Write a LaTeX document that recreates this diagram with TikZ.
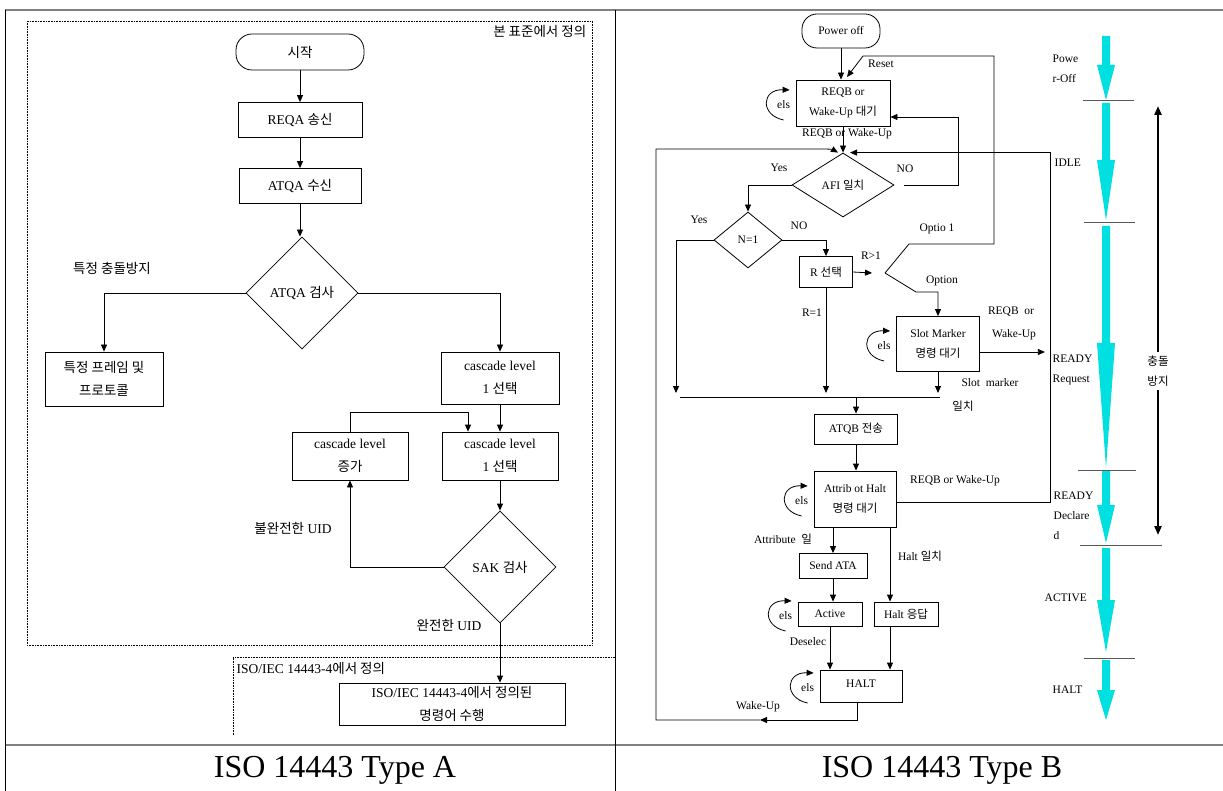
\documentclass[tikz,border=0pt]{standalone}
\usepackage{fontspec}
\setmainfont{Liberation Serif}
\newfontfamily\ko{Noto Sans CJK KR}
\usetikzlibrary{shapes.geometric,arrows.meta,calc}

\definecolor{flowcyan}{RGB}{0,224,224}

\tikzset{
  arr/.style={-{Triangle[length=7pt,width=6pt]}},
  box/.style={draw, inner sep=1pt, align=center},
  cond/.style={draw, diamond, inner sep=0pt, aspect=1.6},
  term/.style={draw, rounded corners=16pt, align=center},
  tick/.style={gray!70!black, line width=1pt},
}

% self loop with "els" left of a box
\newcommand{\elsloop}[2]{%
  \draw[arr] ($(#1.west)+(-12,17)$) .. controls ($(#1.west)+(-36,12)$) and ($(#1.west)+(-34,-14)$) .. ($(#1.west)+(-6,-13)$);
  \node (#2) at ($(#1.west)+(-12,2)$) {els};
}
% one state band of the cyan column
\newcommand{\flowseg}[3]{%
  \fill[flowcyan] (1102,#1) -- (1110,#1) -- (1110,#2) -- (1115,#2) -- (1106,#3) -- (1097,#2) -- (1102,#2) -- cycle;
}

\begin{document}
\begin{tikzpicture}[x=1pt, y=-1pt, line width=0.8pt, font=\fontsize{13.5}{23}\selectfont]
    \useasboundingbox (0,0) rectangle (1223,791);

    % Table frame
    \draw[gray, line width=2pt] (5,10) -- (1223,10);
    \draw[gray, line width=2pt] (5,745) -- (1223,745);
    \draw (5,10) -- (5,791);
    \draw (615,10) -- (615,791);
    \node[font=\fontsize{32}{32}\selectfont] (capa) at (335,770) {ISO 14443 Type A};
    \node[font=\fontsize{32}{32}\selectfont] (capb) at (942,770) {ISO 14443 Type B};

    % Type A
    \draw[densely dotted, line width=0.6pt] (27,21) rectangle (592,645);
    \draw[densely dotted, line width=0.6pt] (233,735) -- (233,657) -- (615,657);
    \node[anchor=east] (ownstd) at (590,31) {\ko 본 표준에서 정의};
    \node[anchor=west] (isodef) at (233,668) {ISO/IEC 14443-4{\ko 에서 정의}};

    \node[term, minimum width=128pt, minimum height=36pt] (start) at (300,52) {\ko 시작};
    \node[box, minimum width=124pt, minimum height=35pt] (reqa) at (300,120) {REQA {\ko 송신}};
    \node[box, minimum width=122pt, minimum height=35pt] (atqa) at (300,186) {ATQA {\ko 수신}};
    \node[cond, aspect=1, minimum width=112pt, minimum height=112pt] (chk) at (302,293) {ATQA {\ko 검사}};
    \node[box, minimum width=118pt, minimum height=54pt] (frame) at (104,379) {\ko 특정 프레임 및\\\ko 프로토콜};
    \node[box, minimum width=118pt, minimum height=52pt] (casc1) at (500,378) {cascade level\\1 {\ko 선택}};
    \node[box, minimum width=116pt, minimum height=48pt] (casc2) at (500,456) {cascade level\\1 {\ko 선택}};
    \node[box, minimum width=116pt, minimum height=48pt] (incr) at (350,456) {cascade level\\\ko 증가};
    \node[cond, aspect=1, minimum width=112pt, minimum height=112pt] (sak) at (500,567) {SAK {\ko 검사}};
    \node[box, minimum width=226pt, minimum height=42pt] (exec) at (452,704) {ISO/IEC 14443-4{\ko 에서 정의된}\\\ko 명령어 수행};

    \node (lspec) at (112,268) {\ko 특정 충돌방지};
    \node (lpart) at (293,528) {{\ko 불완전한} UID};
    \node (lfull) at (449,625) {{\ko 완전한} UID};

    \draw[arr] (start.south) -- (start.south |- reqa.north);
    \draw[arr] (reqa.south) -- (reqa.south |- atqa.north);
    \draw[arr] (atqa.south) -- (atqa.south |- chk.north);
    \draw[arr] (chk.west) -| (frame.north);
    \draw[arr] (chk.east) -| (casc1.north);
    \draw[arr] (casc1.south) -- (casc2.north);
    \draw[arr] (incr.north) -- ++(0,-19) -| ($(casc2.north)+(-32,0)$);
    \draw[arr] (casc2.south) -- (sak.north);
    \draw[arr] (sak.west) -| (incr.south);
    \draw[arr] (sak.south) -- (sak.south |- exec.north);

    % Type B
    \begin{scope}[font=\fontsize{11.5}{20}\selectfont]
    \node[term, rounded corners=15pt, minimum width=78pt, minimum height=34pt] (poff) at (841,31) {Power off};
    \node[box, minimum width=94pt, minimum height=46pt] (reqb) at (843,103) {REQB or\\Wake-Up {\ko 대기}};
    \node[cond, minimum width=102pt, minimum height=64pt] (afi) at (843,185) {AFI {\ko 일치}};
    \node[cond, minimum width=68pt, minimum height=56pt] (none) at (748,240) {N=1};
    \node[box, minimum width=53pt, minimum height=31pt] (rsel) at (826,272) {R {\ko 선택}};
    \node[box, minimum width=83pt, minimum height=55pt] (slot) at (938,344) {Slot Marker\\\ko 명령 대기};
    \node[box, minimum width=83pt, minimum height=30pt] (atqb) at (856,429) {ATQB {\ko 전송}};
    \node[box, minimum width=82pt, minimum height=56pt] (attr) at (855,499) {Attrib ot Halt\\\ko 명령 대기};
    \node[box, minimum width=68pt, minimum height=25pt] (ata) at (833,566) {Send ATA};
    \node[box, minimum width=64pt, minimum height=24pt] (act) at (830,614) {Active};
    \node[box, minimum width=64pt, minimum height=24pt] (hresp) at (906,614) {Halt {\ko 응답}};
    \node[box, minimum width=82pt, minimum height=32pt] (halt) at (861,686) {\raisebox{5pt}{HALT}};

    \elsloop{reqb}{els1}
    \elsloop{slot}{els2}
    \elsloop{attr}{els3}
    \elsloop{act}{els4}
    \elsloop{halt}{els5}

    \coordinate (vtx) at (885,273);
    \coordinate (opttop) at (909,244);
    \coordinate (optbot) at (916,292);
    \coordinate (rsttop) at (994,56);
    \coordinate (rstmid) at (863,56);
    \coordinate (rsttip) at (847,77);
    \coordinate (mrgL) at (680,397);
    \coordinate (mrgR) at (940,397);
    \coordinate (hx) at ($(hresp.north)+(-16,0)$);
    \coordinate (wkarr) at (760,720);
    \coordinate (lpcorner) at (656,149);

    \draw[arr] (poff.south) -- (poff.south |- reqb.north);
    \draw[arr] (vtx) -- (opttop) -| (rsttop) -- (rstmid) -- (rsttip);
    \draw[arr] (vtx) -- (optbot) -| (slot.north);
    \draw[arr] (rsel.east) -- ($(vtx)+(-13,0)$);
    \draw[arr] (reqb.south) -- (afi.north);
    \draw[arr] ($(afi.east)+(10,0)$) -| ($(reqb.east)+(68,14)$) -- ($(reqb.east)+(0,14)$);
    \draw[arr] (afi.west) -| (none.north);
    \draw[arr] (none.west) -| ($(mrgL)+(-4,-4)$);
    \draw[arr] (none.east) -| (rsel.north);
    \draw[arr] (rsel.south) -- ($(rsel.south |- mrgL)+(0,-4)$);
    \draw[arr] (slot.south) -- ($(slot.south |- mrgR)+(0,-4)$);
    \draw (mrgL) -- (mrgR);
    \draw[arr] (atqb.north |- mrgL) -- (atqb.north);
    \draw[arr] (atqb.south) -- (atqb.south |- attr.north);
    \draw[arr] (ata.north |- attr.south) -- (ata.north);
    \draw[arr] (hx |- attr.south) -- (hx);
    \draw[arr] (ata.south) -- (ata.south |- act.north);
    \draw[arr] (act.south) -- (act.south |- halt.north);
    \draw[arr] (hx |- hresp.south) -- (hx |- halt.north);
    \draw[arr] ($(slot.east)+(0,8)$) -- ($(slot.east)+(65,8)$);
    \draw[arr] ($(attr.east)+(0,3)$) -| ($(afi.north)+(207,0)$) -- ($(afi.north)+(7,0)$);
    \draw[arr] ($(halt.south)+(-4,0)$) |- (wkarr);
    \draw[arr] (wkarr) -| (lpcorner) -- (822,149) to[out=0,in=150] ($(afi.north)+(-5,0)$);

    \node (lrst) at (881,64) {Reset};
    \node (lrw) at (847,134) {REQB or Wake-Up};
    \node (lyes1) at (779,168) {Yes};
    \node (lno1) at (905,169) {NO};
    \node (lyes2) at (699,220) {Yes};
    \node (lno2) at (799,226) {NO};
    \node (lopt1) at (937,229) {Optio 1};
    \node (lrgt) at (871,256) {R>1};
    \node (lopt) at (942,281) {Option};
    \node (lreq) at (812,313) {R=1};
    \node (lslw1) at (1011,312) {REQB\ \ or};
    \node (lslw2) at (1014,335) {Wake-Up};
    \node (lsm1) at (990,383) {Slot\ \ marker};
    \node (lsm2) at (963,406) {\ko 일치};
    \node (latw) at (955,481) {REQB or Wake-Up};
    \node (lattr) at (783,539) {Attribute\ \ {\ko 일}};
    \node (lhm) at (920,556) {Halt {\ko 일치}};
    \node (ldes) at (808,642) {Deselec};
    \node (lwk) at (758,707) {Wake-Up};

    % State column
    \flowseg{36}{65}{100}
    \flowseg{103}{160}{220}
    \flowseg{226}{343}{468}
    \flowseg{471}{505}{543}
    \flowseg{548}{600}{652}
    \flowseg{660}{690}{720}
    \draw[tick] (1083,101) -- (1134,101);
    \draw[tick] (1084,223) -- (1135,223);
    \draw[tick] (1078,470) -- (1136,470);
    \draw[tick] (1080,545) -- (1162,545);
    \draw[tick] (1084,658) -- (1135,658);
    \node[anchor=west, align=left] (spoff) at (1049,69) {Powe\\r-Off};
    \node[anchor=west] (sidle) at (1051,163) {IDLE};
    \node[anchor=west, align=left] (sreq) at (1049,370) {READY\\Request};
    \node[anchor=west, align=left] (sdec) at (1050,516) {READY\\Declare\\d};
    \node[anchor=west] (sact) at (1041,598) {ACTIVE};
    \node[anchor=west] (shalt) at (1049,690) {HALT};
    \node[align=center] (scol) at (1158,371) {\ko 충돌\\\ko 방지};
    \draw[-{Triangle[length=9pt,width=7pt]}, line width=2.2pt] (scol.north) -- (1158,106);
    \draw[-{Triangle[length=9pt,width=7pt]}, line width=2.2pt] (scol.south) -- (1158,535);
    \end{scope}
\end{tikzpicture}
\end{document}
